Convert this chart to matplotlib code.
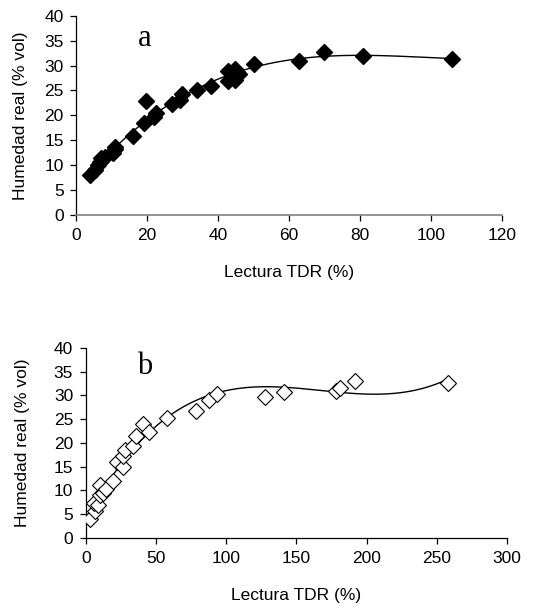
import numpy as np
import matplotlib
matplotlib.use("Agg")
import matplotlib.pyplot as plt

# panel a: TDR reading vs real moisture
tdr_a = [3.9, 5.3, 6.2, 6.7, 7.1, 8.1, 10.4, 10.9, 11.0, 15.9, 19.1, 19.8, 22.0, 22.4,
         26.9, 29.3, 29.7, 34.0, 37.9, 42.9, 42.9, 44.8, 44.8, 45.4, 46.0, 50.0,
         62.9, 69.9, 80.8, 105.9]
hum_a = [8.0, 9.0, 10.0, 10.7, 11.4, 11.7, 12.4, 13.7, 13.2, 15.9, 18.5, 22.9, 19.6, 20.5,
         22.2, 23.1, 24.2, 25.0, 25.8, 29.0, 26.9, 29.4, 27.1, 28.8, 28.3, 30.4,
         31.0, 32.8, 32.0, 31.3]

# panel b
tdr_b = [3.1, 6.6, 6.2, 9.0, 10.2, 10.2, 12.6, 14.5, 19.2, 22.5, 26.3, 26.3, 28.0,
         33.9, 35.8, 41.1, 45.3, 58.2, 78.3, 88.1, 93.3, 127.7, 141.2, 178.0, 181.0,
         191.8, 257.8]
hum_b = [4.1, 5.7, 7.3, 6.9, 11.1, 9.0, 9.4, 10.2, 12.0, 15.9, 14.9, 17.2, 18.5,
         19.3, 21.4, 23.9, 22.3, 25.3, 26.8, 29.1, 30.3, 29.6, 30.6, 30.8, 31.6,
         32.9, 32.5]

plt.rcParams['font.family'] = ['Liberation Sans', 'DejaVu Sans']

fig = plt.figure(figsize=(5.38, 6.06), dpi=100)
ax1 = fig.add_axes([0.1418, 0.6452, 0.7907, 0.3288])
ax2 = fig.add_axes([0.1593, 0.1122, 0.7831, 0.314])


def style(ax, xmax, xstep, xaxis_color, ypad):
    ax.set_xlim(0, xmax)
    ax.set_ylim(0, 40)
    ax.set_xticks(np.arange(0, xmax + 1, xstep))
    ax.set_yticks(np.arange(0, 41, 5))
    ax.spines['top'].set_visible(False)
    ax.spines['right'].set_visible(False)
    ax.spines['left'].set_linewidth(0.9)
    ax.spines['bottom'].set_linewidth(1.2 if xaxis_color != 'black' else 0.9)
    ax.spines['bottom'].set_color(xaxis_color)
    ax.tick_params(direction='out', length=4, width=0.9, labelsize=12.5, pad=5)
    ax.set_xlabel('Lectura TDR (%)', fontsize=12.5, labelpad=16)
    ax.set_ylabel('Humedad real (% vol)', fontsize=12.5, labelpad=ypad)


# trend lines (polynomial fits)
ca = np.polyfit(tdr_a, hum_a, 3)
xa = np.linspace(min(tdr_a), max(tdr_a), 200)
ax1.plot(xa, np.polyval(ca, xa), color='black', lw=1)
ax1.plot(tdr_a, hum_a, 'D', color='black', markersize=8, zorder=3)
style(ax1, 120, 20, '#808080', 12)
ax1.text(19.4, 35.5, 'a', family='Liberation Serif', fontsize=22, ha='center', va='center')

cb = np.polyfit(tdr_b, hum_b, 3)
xb = np.linspace(min(tdr_b), max(tdr_b), 200)
ax2.plot(xb, np.polyval(cb, xb), color='black', lw=1)
ax2.plot(tdr_b, hum_b, 'D', markerfacecolor='white', markeredgecolor='black',
         markeredgewidth=0.8, markersize=8, zorder=3, linestyle='none')
style(ax2, 300, 50, 'black', 17)
ax2.text(42.2, 36.0, 'b', family='Liberation Serif', fontsize=22, ha='center', va='center')

fig.savefig('out.png', dpi=100)
